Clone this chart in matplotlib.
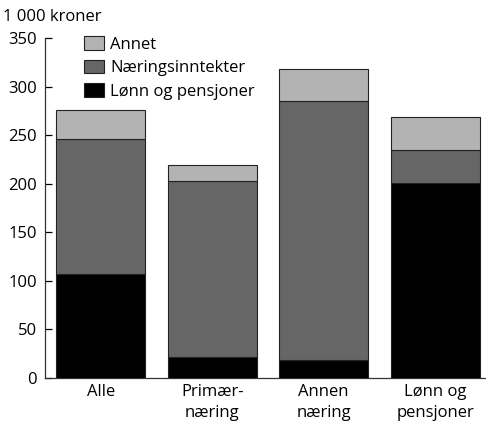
import matplotlib
matplotlib.use("Agg")
import matplotlib.pyplot as plt
import numpy as np

plt.rcParams.update({"font.family": ["Open Sans", "DejaVu Sans"], "font.size": 12})

categories = ["Alle", "Primær-\nnæring", "Annen\nnæring", "Lønn og\npensjoner"]
lonn = [107, 22, 19, 201]
naering = [139, 181, 267, 34]
annet = [30, 17, 33, 34]
series = [
    ("Lønn og pensjoner", lonn, "#000000"),
    ("Næringsinntekter", naering, "#666666"),
    ("Annet", annet, "#b3b3b3"),
]

fig = plt.figure(figsize=(4.86, 4.23), dpi=100)
ax = fig.add_axes([0.0926, 0.1064, 0.906, 0.8026])

x = np.arange(len(categories))
bottom = np.zeros(len(categories))
handles = []
for name, vals, col in series:
    h = ax.bar(x, vals, 0.8, bottom=bottom, color=col, edgecolor="#222222",
               linewidth=0.8, label=name, zorder=3)
    handles.append(h)
    bottom += np.array(vals)

ax.set_xlim(-0.5, 3.45)
ax.set_ylim(0, 350)
ax.set_yticks(range(0, 351, 50))
ax.set_xticks(x)
ax.set_xticklabels(categories, linespacing=1.45)
ax.tick_params(axis="x", length=0, pad=4)
ax.tick_params(axis="y", direction="in", length=5, width=0.9, pad=6)
for s in ("top", "right"):
    ax.spines[s].set_visible(False)
for s in ("left", "bottom"):
    ax.spines[s].set_linewidth(0.9)
    ax.spines[s].set_color("#333333")

fig.text(0.006, 0.96, "1 000 kroner", ha="left", va="center")

leg = ax.legend(handles[::-1], [s[0] for s in series][::-1], loc="upper left",
                bbox_to_anchor=(0.073, 1.027), frameon=False, handlelength=1.2,
                handleheight=0.9, handletextpad=0.4, labelspacing=0.42,
                borderaxespad=0)

fig.savefig("out.png", dpi=100)
